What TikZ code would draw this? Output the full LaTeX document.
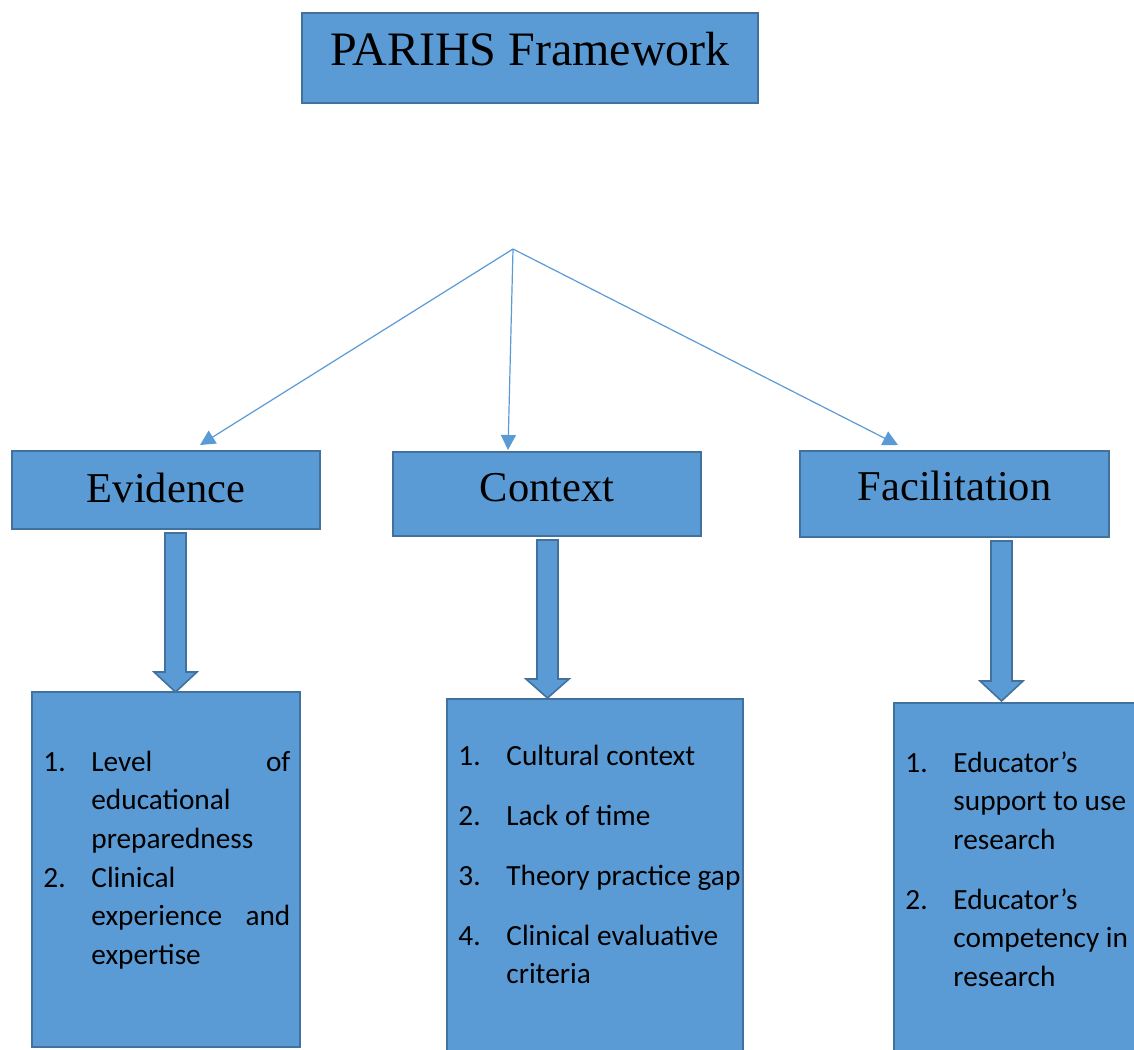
\documentclass[tikz,border=0pt]{standalone}
\usepackage{fontspec}
\setmainfont{Liberation Serif}
\newfontfamily\listfont{Carlito}
\usetikzlibrary{arrows.meta}
\definecolor{boxfill}{HTML}{5B9BD5}
\definecolor{boxedge}{HTML}{41719C}
\tikzset{
  bluebox/.style={draw=boxedge, fill=boxfill, line width=1pt, inner sep=0pt, rectangle},
  titlebox/.style={bluebox, minimum width=228pt, minimum height=45pt,
     font=\fontsize{24}{28}\selectfont, text height=12pt, text depth=5pt},
  headbox/.style={bluebox, font=\fontsize{21.25}{25}\selectfont},
  listbox/.style={bluebox},
  listtext/.style={anchor=base west, inner sep=0pt,
     font=\listfont\fontsize{14.65}{19.4}\selectfont},
  thinarrow/.style={draw=boxfill, line width=0.6pt, -{Triangle[length=7.5pt, width=7.5pt]}},
  blockarr/.style={draw=boxedge, fill=boxfill, line width=0.8pt, line join=miter}
}
\newcommand{\blockarrow}[4]{\draw[blockarr] ({#1-10.5},#2) -- ({#1+10.5},#2) -- ({#1+10.5},#3) -- ({#1+21.5},#3) -- (#1,#4) -- ({#1-21.5},#3) -- ({#1-10.5},#3) -- cycle;}
\newcommand{\itemlines}[2]{\parbox[t]{#1}{\raggedright\listfont\fontsize{14.65}{19.4}\selectfont #2}}
\begin{document}
\begin{tikzpicture}[x=0.5pt, y=-0.5pt]
\clip (0,0) rectangle (1134,1049);
\fill[white] (0,0) rectangle (1134,1049);

% title
\node[titlebox] (title) at (530,58) {PARIHS Framework};

% heading boxes
\node[headbox, minimum width=154pt, minimum height=39pt, text height=12pt, text depth=0pt] (ev) at (166,490) {Evidence};
\node[headbox, minimum width=154pt, minimum height=42pt, text height=8pt, text depth=1pt] (ct) at (547,494) {Context};
\node[headbox, minimum width=154.5pt, minimum height=43pt, text height=8pt, text depth=2pt] (fa) at (954.5,494) {Facilitation};

% thin arrows
\coordinate (apex) at (513,249);
\coordinate (tE) at (200,445);
\coordinate (tC) at (508,450);
\coordinate (tF) at (898,445);
\draw[thinarrow] (apex) -- (tE);
\draw[thinarrow] (apex) -- (tC);
\draw[thinarrow] (apex) -- (tF);

% list boxes
\node[listbox, minimum width=134pt, minimum height=177.5pt] (evl) at (166,869.5) {};
\node[listbox, minimum width=148pt, minimum height=185.5pt] (ctl) at (595,884.5) {};
\node[listbox, minimum width=128pt, minimum height=183.5pt] (fal) at (1022,886.5) {};

% block arrows
\blockarrow{175.5}{533}{672}{692}
\blockarrow{547.5}{540}{679}{698}
\blockarrow{1001.5}{541}{681}{701}

% evidence list
\node[listtext] (e1n) at (43,771) {1.};
\node[listtext] (e1t) at (91,771) {\itemlines{99.5pt}{Level\hfill of\\educational\\preparedness}};
\node[listtext] (e2n) at (43,887) {2.};
\node[listtext] (e2t) at (91,887) {\itemlines{99.5pt}{Clinical\\experience\hfill and\\expertise}};

% context list
\node[listtext] (c1n) at (458,765) {1.};
\node[listtext] (c1t) at (506,765) {Cultural context};
\node[listtext] (c2n) at (458,825) {2.};
\node[listtext] (c2t) at (506,825) {Lack of time};
\node[listtext] (c3n) at (458,885) {3.};
\node[listtext] (c3t) at (506,885) {Theory practice gap};
\node[listtext] (c4n) at (458,945) {4.};
\node[listtext] (c4t) at (506,945) {\itemlines{120pt}{Clinical evaluative\\criteria}};

% facilitation list
\node[listtext] (f1n) at (905,772) {1.};
\node[listtext] (f1t) at (953,772) {\itemlines{100pt}{Educator’s\\support to use\\research}};
\node[listtext] (f2n) at (905,909) {2.};
\node[listtext] (f2t) at (953,909) {\itemlines{100pt}{Educator’s\\competency in\\research}};
\end{tikzpicture}
\end{document}
